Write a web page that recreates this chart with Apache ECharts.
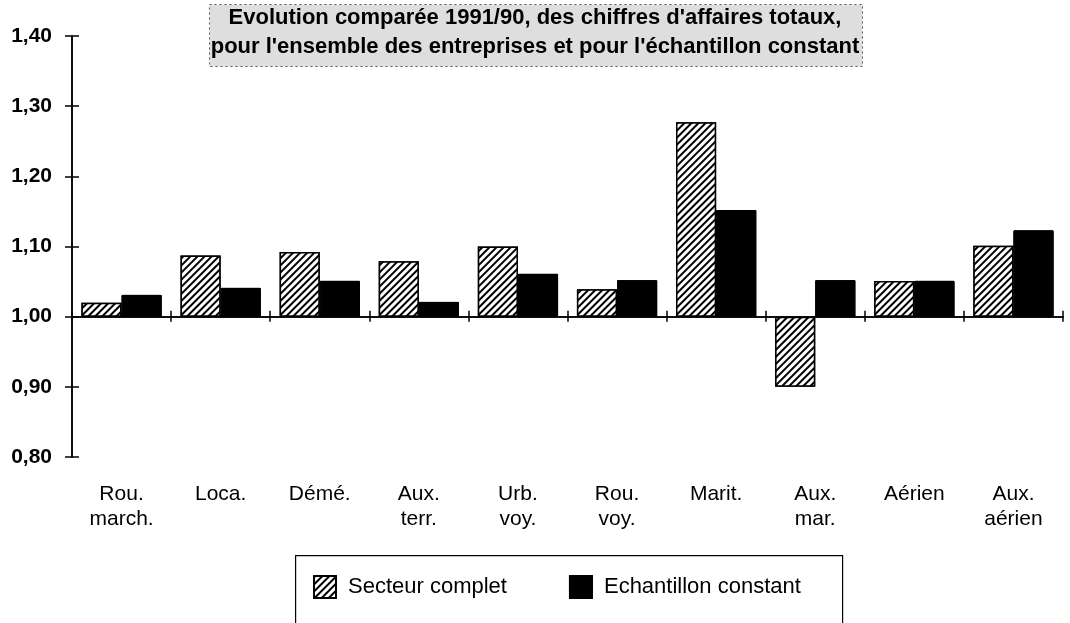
<!DOCTYPE html>
<html>
<head>
<meta charset="utf-8">
<script src="https://cdn.jsdelivr.net/npm/echarts@6/dist/echarts.min.js"></script>
<style>
html,body{margin:0;padding:0;background:#fff;}
#chart{width:1070px;height:623px;}
</style>
</head>
<body>
<div id="chart"></div>
<script>
var categories = ['Rou.\nmarch.', 'Loca.', 'Démé.', 'Aux.\nterr.', 'Urb.\nvoy.', 'Rou.\nvoy.', 'Marit.', 'Aux.\nmar.', 'Aérien', 'Aux.\naérien'];
var secteurComplet = [1.02, 1.087, 1.092, 1.079, 1.10, 1.039, 1.277, 0.90, 1.051, 1.101];
var echantillonConstant = [1.031, 1.041, 1.051, 1.021, 1.061, 1.052, 1.152, 1.052, 1.051, 1.123];
var yTicks = { min: 0.80, max: 1.40, step: 0.10 };
var baseValue = 1.00;
var titleLines = ["Evolution comparée 1991/90, des chiffres d'affaires totaux,", "pour l'ensemble des entreprises et pour l'échantillon constant"];
var seriesNames = ['Secteur complet', 'Echantillon constant'];

var FONT = '"Liberation Sans", Arial, Helvetica, sans-serif';
function dev(arr) { return arr.map(function (v) { return +(v - baseValue).toFixed(4); }); }
var yMin = +(yTicks.min - baseValue).toFixed(4), yMax = +(yTicks.max - baseValue).toFixed(4);

var chart = echarts.init(document.getElementById('chart'), null, { renderer: 'canvas' });
var axisLineStyle = { color: '#000', width: 1.5 };
var titleStyle = { fontFamily: FONT, fontSize: 22, fontWeight: 'bold', color: '#000' };
var option = {
  backgroundColor: '#fff',
  animation: false,
  aria: { enabled: true, decal: { show: true } },
  graphic: [
    {
      type: 'rect', left: 209, top: 4, z: -1,
      shape: { width: 653, height: 62 },
      style: { fill: '#dedede', stroke: '#555', lineWidth: 1, lineDash: [2, 3] }
    },
    {
      type: 'rect', left: 295, top: 555, z: -1,
      shape: { width: 547, height: 80 },
      style: { fill: '#fff', stroke: '#000', lineWidth: 1.2 }
    }
  ],
  title: [
    { text: titleLines[0], left: 'center', top: 7, padding: 0, textStyle: titleStyle },
    { text: titleLines[1], left: 'center', top: 36, padding: 0, textStyle: titleStyle }
  ],
  legend: {
    left: 313, top: 575, padding: 0,
    itemWidth: 22, itemHeight: 22, itemGap: 62,
    icon: 'rect',
    textStyle: { fontFamily: FONT, fontSize: 22, color: '#000', padding: [0, 0, 0, 7] },
    data: seriesNames
  },
  grid: { left: 72, right: 7, top: 36, bottom: 166, containLabel: false, outerBoundsMode: 'none' },
  xAxis: [
    {
      type: 'category', data: categories, position: 'bottom',
      axisLine: { show: false, onZero: false },
      axisTick: { show: false },
      axisLabel: { interval: 0, margin: 25, fontFamily: FONT, fontSize: 21, lineHeight: 25, color: '#000' },
      splitLine: { show: false }
    },
    {
      type: 'category', data: categories, position: 'bottom',
      axisLine: { show: true, onZero: true, onZeroAxisIndex: 0, lineStyle: axisLineStyle },
      axisTick: { show: true, length: 5, inside: false, lineStyle: axisLineStyle },
      axisLabel: { show: false },
      splitLine: { show: false }
    },
    {
      type: 'category', data: categories, position: 'bottom',
      axisLine: { show: true, onZero: true, onZeroAxisIndex: 0, lineStyle: axisLineStyle },
      axisTick: { show: true, length: 6, inside: true, lineStyle: axisLineStyle },
      axisLabel: { show: false },
      splitLine: { show: false }
    }
  ],
  yAxis: [
    {
      type: 'value', min: yMin, max: yMax, interval: yTicks.step,
      axisLine: { show: true, lineStyle: axisLineStyle },
      axisTick: { show: true, length: 7, lineStyle: axisLineStyle },
      splitLine: { show: false },
      axisLabel: {
        margin: 20, fontFamily: FONT, fontSize: 21, fontWeight: 'bold', color: '#000',
        formatter: function (v) { return (v + baseValue).toFixed(2).replace('.', ','); }
      }
    },
    {
      type: 'value', min: yMin, max: yMax, interval: yTicks.step, position: 'left',
      axisLine: { show: true, lineStyle: axisLineStyle },
      axisTick: { show: true, inside: true, length: 7, lineStyle: axisLineStyle },
      splitLine: { show: false },
      axisLabel: { show: false }
    }
  ],
  series: [
    {
      name: seriesNames[0], type: 'bar', xAxisIndex: 1, yAxisIndex: 0,
      data: dev(secteurComplet),
      barGap: '0%', barCategoryGap: '19%',
      itemStyle: {
        color: '#fff', borderColor: '#000', borderWidth: 1.5,
        decal: { symbol: 'rect', symbolSize: 1, color: '#000', backgroundColor: '#fff',
                 dashArrayX: [1, 0], dashArrayY: [2, 3], rotation: -Math.PI / 4 }
      }
    },
    {
      name: seriesNames[1], type: 'bar', xAxisIndex: 1, yAxisIndex: 0,
      data: dev(echantillonConstant),
      barGap: '0%', barCategoryGap: '19%',
      itemStyle: { color: '#000', borderColor: '#000', borderWidth: 1, decal: { symbol: 'none' } }
    }
  ]
};
chart.setOption(option);
</script>
</body>
</html>
